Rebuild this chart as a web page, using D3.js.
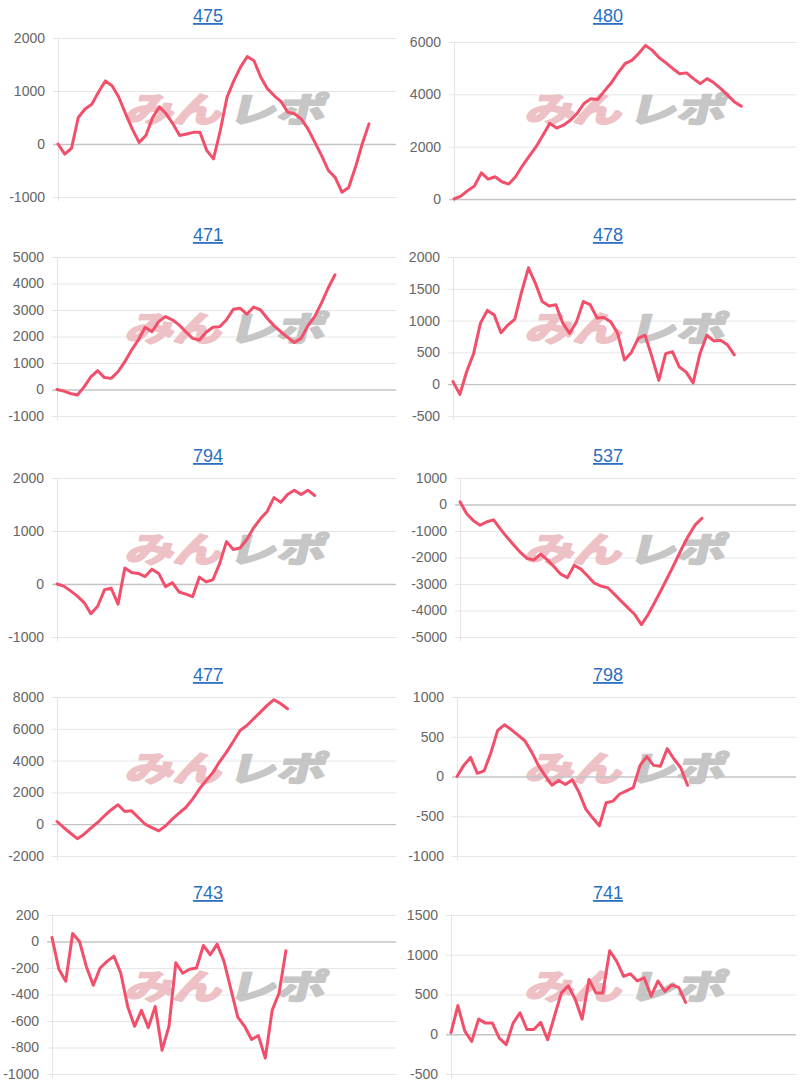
<!DOCTYPE html>
<html>
<head>
<meta charset="utf-8">
<script src="https://cdn.jsdelivr.net/npm/d3@7"></script>
<style>
  body { margin: 0; background: #fff; }
  svg { display: block; }
</style>
</head>
<body>
<svg id="chart" width="800" height="1090"></svg>
<script>
// panel titles, in reading order (left, right, next row...)
const titles = ["475", "480", "471", "478", "794", "537", "477", "798", "743", "741"];

// series values, one point per step on a shared x axis (0..50)
const s475 = [0, -190, -80, 500, 660, 750, 980, 1190, 1100, 880, 570, 280, 30, 160, 500, 700, 570, 380, 160, 190,
  220, 220, -120, -280, 250, 880, 1190, 1450, 1650, 1570, 1260, 1040, 910, 800, 600, 570, 470, 280, 30, -220,
  -500, -630, -910, -820, -440, 0, 380];
const s480 = [0, 110, 320, 500, 1000, 760, 850, 660, 570, 850, 1270, 1640, 2000, 2440, 2890, 2710, 2820, 3010, 3270, 3650,
  3830, 3800, 4130, 4440, 4830, 5170, 5300, 5560, 5870, 5680, 5400, 5200, 4980, 4790, 4820, 4600, 4410, 4600, 4440, 4220,
  3970, 3710, 3550];
const s471 = [0, -60, -150, -210, 100, 480, 710, 450, 420, 670, 1050, 1490, 1870, 2350, 2180, 2560, 2750, 2630, 2440, 2180,
  1930, 1870, 2160, 2350, 2370, 2630, 3030, 3070, 2840, 3110, 3010, 2690, 2410, 2180, 1970, 1770, 1930, 2400, 2750, 3260,
  3830, 4330];
const s478 = [40, -160, 200, 480, 960, 1160, 1090, 810, 930, 1020, 1450, 1830, 1590, 1300, 1230, 1250, 960, 800, 980, 1300,
  1250, 1040, 1050, 980, 800, 380, 500, 720, 770, 430, 60, 480, 510, 270, 190, 20, 480, 770, 680, 690,
  620, 460];
const s794 = [0, -40, -130, -230, -350, -560, -420, -110, -80, -380, 300, 215, 200, 140, 280, 200, -50, 25, -150, -190,
  -240, 130, 40, 80, 390, 800, 650, 680, 840, 1060, 1230, 1370, 1630, 1540, 1690, 1770, 1690, 1770, 1670];
const s537 = [100, -350, -610, -780, -650, -580, -920, -1240, -1530, -1810, -2040, -2090, -1870, -2090, -2350, -2630, -2760, -2290, -2440, -2700,
  -2970, -3080, -3140, -3390, -3650, -3900, -4150, -4530, -4150, -3680, -3200, -2700, -2190, -1660, -1180, -770, -520];
const s477 = [170, -210, -570, -910, -630, -250, 110, 530, 910, 1220, 800, 840, 420, 0, -210, -420, -110, 320, 690, 1050,
  1580, 2210, 2740, 3260, 3940, 4530, 5200, 5890, 6210, 6630, 7050, 7470, 7830, 7580, 7260];
const s798 = [0, 140, 240, 40, 70, 300, 580, 650, 590, 520, 450, 310, 140, 10, -110, -50, -100, -40, -200, -410,
  -520, -620, -330, -310, -220, -180, -140, 140, 250, 140, 130, 350, 220, 110, -110];
const s743 = [30, -210, -300, 60, 0, -190, -330, -200, -150, -110, -240, -490, -640, -520, -650, -490, -820, -640, -160, -240,
  -210, -200, -30, -100, -20, -150, -360, -570, -640, -740, -710, -880, -520, -390, -70];
const s741 = [20, 360, 40, -90, 190, 140, 140, -50, -130, 140, 270, 60, 60, 150, -70, 230, 520, 610, 440, 190,
  690, 520, 520, 1050, 920, 730, 760, 670, 710, 480, 670, 540, 620, 590, 400];

// y axis ticks per panel
const ticks475 = [-1000, 0, 1000, 2000];
const ticks480 = [0, 2000, 4000, 6000];
const ticks471 = [-1000, 0, 1000, 2000, 3000, 4000, 5000];
const ticks478 = [-500, 0, 500, 1000, 1500, 2000];
const ticks794 = [-1000, 0, 1000, 2000];
const ticks537 = [-5000, -4000, -3000, -2000, -1000, 0, 1000];
const ticks477 = [-2000, 0, 2000, 4000, 6000, 8000];
const ticks798 = [-1000, -500, 0, 500, 1000];
const ticks743 = [-1000, -800, -600, -400, -200, 0, 200];
const ticks741 = [-500, 0, 500, 1000, 1500];

const xMax = 50;

const seriesList = [s475, s480, s471, s478, s794, s537, s477, s798, s743, s741];
const tickList = [ticks475, ticks480, ticks471, ticks478, ticks794, ticks537, ticks477, ticks798, ticks743, ticks741];

// layout
const titleBase = [22, 241, 462, 681, 899];
const plotLeft = [58, 54, 57, 53, 57, 60, 57, 57, 52, 51];
const lineColor = "#f24f6b";

const svg = d3.select("#chart");

titles.forEach((title, i) => {
  const col = i % 2, row = Math.floor(i / 2);
  const colX = col * 400;
  const base = titleBase[row];
  let top = base + 16, bottom = top + 159;
  if (i === 1) { top = 42; bottom = 199; }

  const left = colX + plotLeft[i];
  const right = colX + 396;
  const ticks = tickList[i];
  const data = seriesList[i];

  const x = d3.scaleLinear().domain([0, xMax]).range([left, right]);
  const y = d3.scaleLinear().domain(d3.extent(ticks)).range([bottom, top]);

  const g = svg.append("g");

  // gridlines
  g.selectAll("line.grid")
    .data(ticks.filter(t => t !== 0))
    .join("line")
    .attr("class", "grid")
    .attr("x1", left - 5).attr("x2", right)
    .attr("y1", d => y(d) + 0.5).attr("y2", d => y(d) + 0.5)
    .attr("stroke", "#e6e6e6")
    .attr("stroke-width", 1);

  // watermark (みんレポ logo, drawn as heavy slanted text)
  const wm = g.append("g")
    .attr("transform", `translate(${colX + 228},${base + 85}) skewX(-14) scale(1.1,0.78)`)
    .attr("font-family", "'Noto Sans CJK JP', sans-serif")
    .attr("font-weight", 700)
    .attr("font-size", 44)
    .attr("stroke-width", 3)
    .attr("stroke-linejoin", "round")
    .attr("dominant-baseline", "central");
  wm.append("text")
    .attr("x", -3).attr("text-anchor", "end")
    .attr("fill", "#ebb7bb")
    .attr("stroke", "#ebb7bb")
    .attr("opacity", 0.85)
    .text("みん");
  wm.append("text")
    .attr("x", 3).attr("text-anchor", "start")
    .attr("fill", "#bdbdbd")
    .attr("stroke", "#bdbdbd")
    .attr("opacity", 0.85)
    .text("レポ");

  // axis line and zero line
  g.append("line")
    .attr("x1", left + 0.5).attr("x2", left + 0.5)
    .attr("y1", top).attr("y2", bottom + 4)
    .attr("stroke", "#e3e3e3");
  if (ticks.includes(0)) {
    g.append("line")
      .attr("x1", left - 5).attr("x2", right)
      .attr("y1", y(0) + 0.5).attr("y2", y(0) + 0.5)
      .attr("stroke", "#c4c4c4")
      .attr("stroke-width", 1.3);
  }

  // tick labels
  g.selectAll("text.tick")
    .data(ticks)
    .join("text")
    .attr("class", "tick")
    .attr("x", left - 13)
    .attr("y", d => y(d))
    .attr("dy", "0.35em")
    .attr("text-anchor", "end")
    .attr("font-family", "'Liberation Sans', Arial, sans-serif")
    .attr("font-size", 14)
    .attr("fill", "#666")
    .text(d => String(d));

  // series line
  const line = d3.line()
    .x((d, k) => x(k))
    .y(d => y(d));
  g.append("path")
    .datum(data)
    .attr("d", line)
    .attr("fill", "none")
    .attr("stroke", lineColor)
    .attr("stroke-width", 3)
    .attr("stroke-linejoin", "round")
    .attr("stroke-linecap", "round");

  // title (link style)
  g.append("text")
    .attr("x", colX + 208)
    .attr("y", base)
    .attr("text-anchor", "middle")
    .attr("font-family", "'Liberation Sans', Arial, sans-serif")
    .attr("font-size", 18)
    .attr("fill", "#2a6fc2")
    .attr("text-decoration", "underline")
    .text(title);
});
</script>
</body>
</html>
